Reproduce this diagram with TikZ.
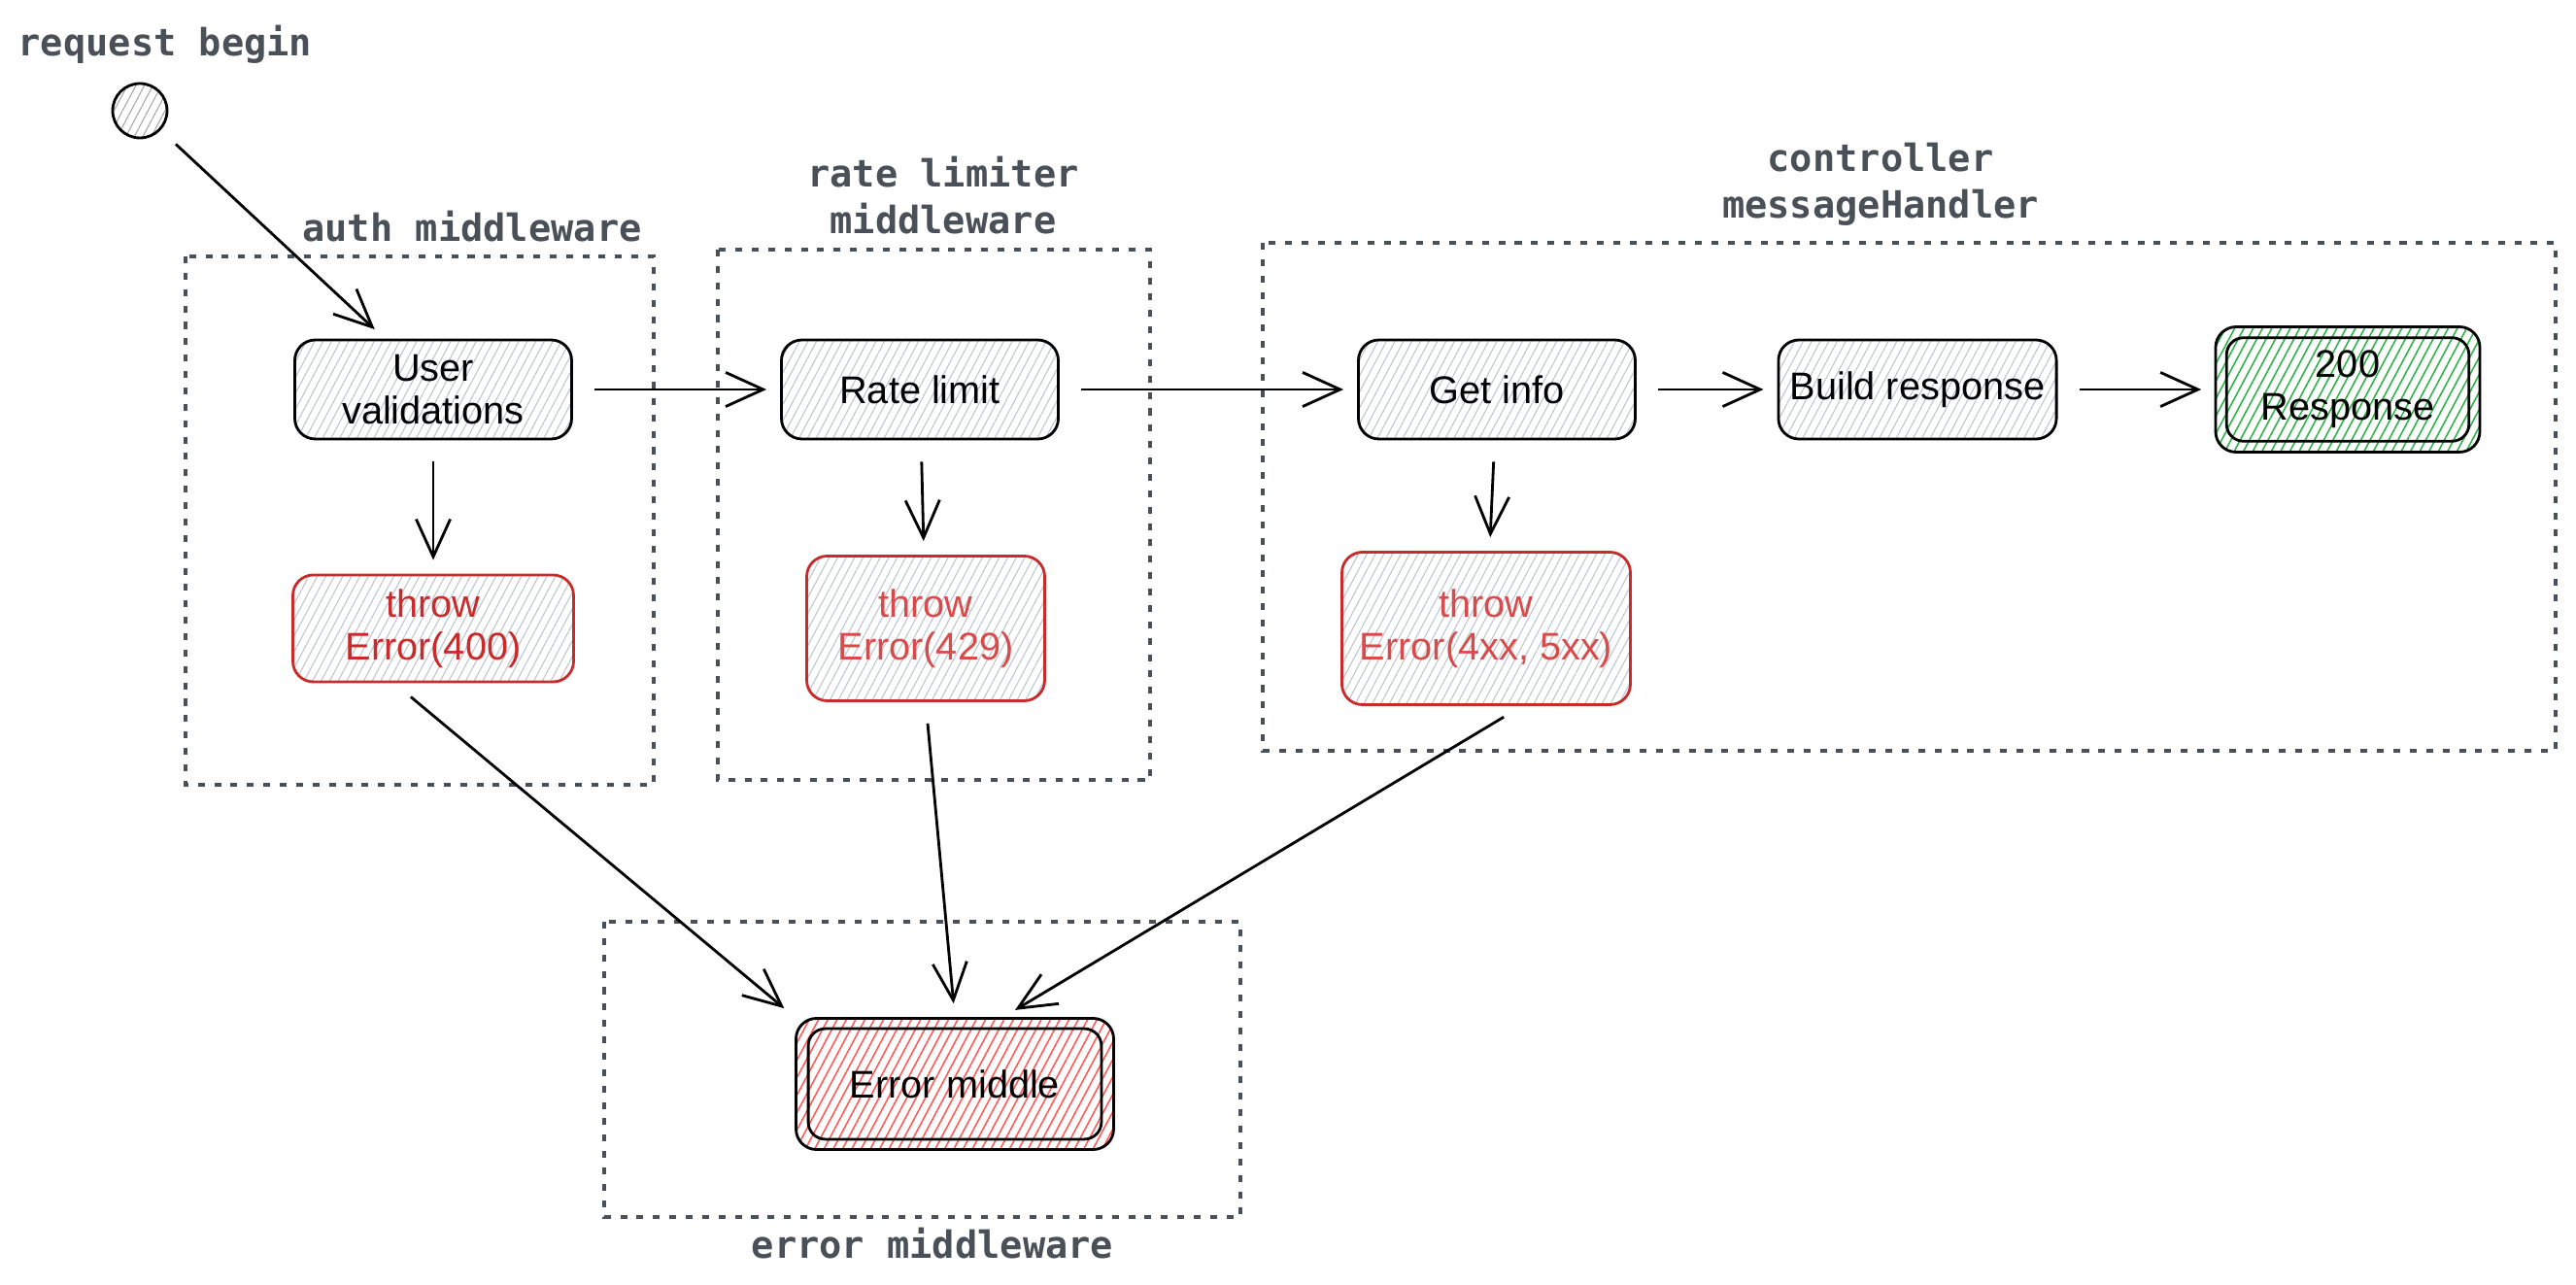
\documentclass[tikz,border=0pt]{standalone}
\usepackage{fontspec}
\setmainfont{Liberation Sans}
\newfontfamily\monofont{DejaVu Sans Mono}
\usetikzlibrary{arrows.meta,patterns.meta}

\definecolor{labelgray}{HTML}{495057}
\definecolor{hatchgray}{HTML}{BCC3CC}
\definecolor{errred}{HTML}{C92A2A}
\definecolor{errlight}{HTML}{D94A4A}
\definecolor{okgreen}{HTML}{2FB24A}
\definecolor{hatchred}{HTML}{FF5A5A}

\begin{document}
\begin{tikzpicture}[node distance=2.46cm,
  every node/.style={font=\fontsize{11.3}{12.5}\selectfont, align=center},
  hatch/.style={pattern={Lines[angle=62,distance=2.2pt,line width=0.3pt]}, pattern color=#1},
  thick hatch/.style={pattern={Lines[angle=62,distance=2.4pt,line width=0.45pt]}, pattern color=#1},
  step node/.style={draw, line width=0.8pt, rounded corners=6pt, minimum width=2.85cm, minimum height=1.02cm, hatch=hatchgray},
  error node/.style={step node, draw=errred, text=errlight},
  begin dot/.style={draw, circle, line width=0.8pt, minimum size=0.56cm, hatch=gray!70},
  group box/.style={draw=labelgray, line width=0.9pt, dash pattern=on 2pt off 2.8pt},
  group label/.style={font=\monofont\bfseries\fontsize{11}{13.5}\selectfont, text=labelgray},
  flow/.style={line width=0.8pt, -{Straight Barb[length=11pt,width=10pt]}, shorten <=0.22cm, shorten >=0.14cm}]
\useasboundingbox (0,0) rectangle (26.52,-13.23);

% groups
\draw[group box] (1.91,-2.64) rectangle (6.73,-8.08);
\draw[group box] (7.39,-2.57) rectangle (11.84,-8.03);
\draw[group box] (13.00,-2.50) rectangle (26.31,-7.73);
\draw[group box] (6.22,-9.49) rectangle (12.77,-12.53);

\node[group label]             (beginlbl) at (1.70,-0.46)  {request begin};
\node[group label, anchor=east] (authlbl) at (6.73,-2.33)  {auth middleware};
\node[group label]              (ratelbl) at (9.71,-2.01)  {rate limiter\\middleware};
\node[group label]              (ctrllbl) at (19.36,-1.90) {controller\\messageHandler};
\node[group label]              (errlbl)  at (9.60,-12.80) {error middleware};

% main flow
\node[begin dot] (begin) at (1.44,-1.14) {};
\node[step node] (uv) at (4.46,-4.01) {User\\validations};
\node[step node, right of=uv, node distance=5.01cm] (rl) {Rate limit};
\node[step node, right of=rl, node distance=5.94cm] (gi) {Get info};
\node[step node, right of=gi, node distance=4.33cm] (br) {Build response};
\node[step node, right of=br, node distance=4.43cm, minimum width=2.72cm, minimum height=1.29cm, thick hatch=okgreen] (ok) {200\\Response};

% errors
\node[error node, below of=uv, minimum width=2.89cm, minimum height=1.10cm, text=errred] (e400) {throw\\Error(400)};
\node[error node, below of=rl, xshift=0.6mm, minimum width=2.45cm, minimum height=1.49cm] (e429) {throw\\Error(429)};
\node[error node, below of=gi, xshift=-1.1mm, minimum width=2.97cm, minimum height=1.57cm] (e4xx) {throw\\Error(4xx, 5xx)};
\node[step node, minimum width=3.27cm, minimum height=1.35cm, thick hatch=hatchred] (em) at (9.83,-11.16) {Error middle};

% inner borders
\draw[line width=0.8pt, rounded corners=5pt] ([shift={(0.12,-0.12)}]ok.north west) rectangle ([shift={(-0.12,0.12)}]ok.south east);
\draw[line width=0.8pt, rounded corners=5pt] ([shift={(0.14,-0.12)}]em.north west) rectangle ([shift={(-0.14,0.12)}]em.south east);

\path[flow]
(begin) edge ([xshift=-5mm]uv.north)
(uv) edge (rl)
     edge (e400)
(rl) edge (gi)
     edge (e429)
(gi) edge (br)
     edge (e4xx)
(br) edge (ok)
([xshift=-4mm]e400.south) edge (em.north west)
(e429.south) edge (em.north)
([xshift=3.7mm]e4xx.south) edge ([xshift=5mm]em.north);
\end{tikzpicture}
\end{document}
